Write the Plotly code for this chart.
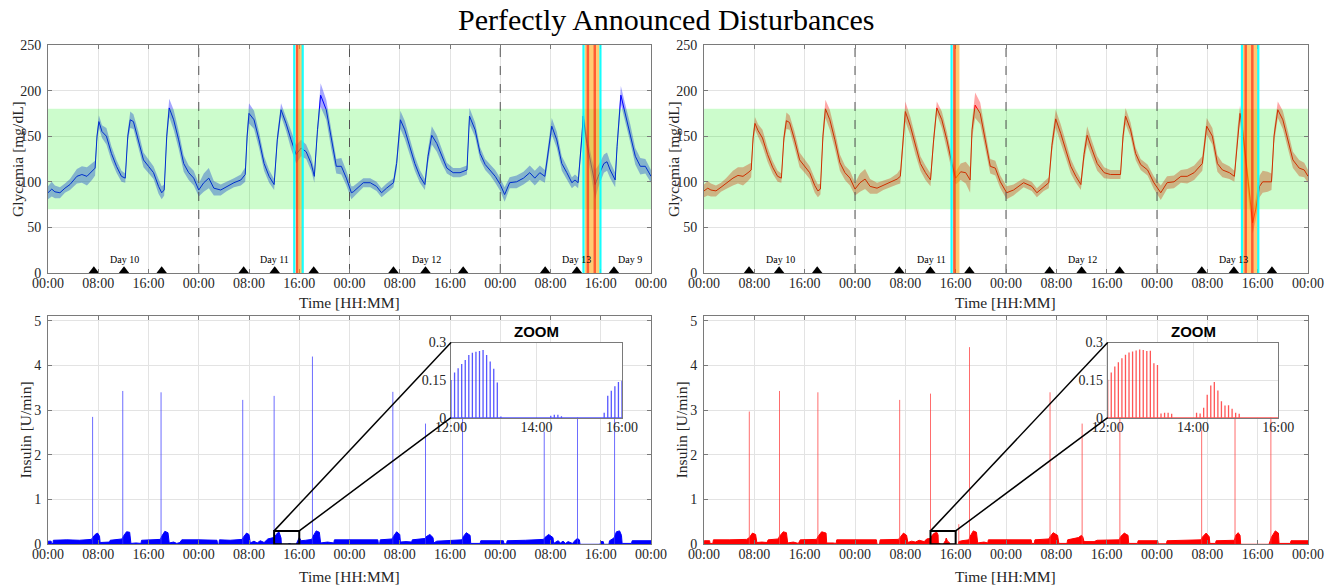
import plotly.graph_objects as go

# ---------------- data ----------------
hour_ticks = [0, 8, 16, 24, 32, 40, 48, 56, 64, 72, 80, 88, 96]
hour_tick_text = ["00:00", "08:00", "16:00", "00:00", "08:00", "16:00", "00:00",
                  "08:00", "16:00", "00:00", "08:00", "16:00", "00:00"]
glyc_ticks = [0, 50, 100, 150, 200, 250]
ins_ticks = [0, 1, 2, 3, 4, 5]
zoom_x_ticks = [36, 38, 40]
zoom_x_text = ["12:00", "14:00", "16:00"]
zoom_y_ticks = [0, 0.15, 0.3]
zoom_y_text = ["0", "0.15", "0.3"]
target_range = [70, 180]
midnights = [24, 48, 72]
zoom_window = [36, 40]
zoom_ymax = 0.3

# glycemia, left (blue) : hours, mean, spread
glu_L_t = [0.0, 0.6, 1.1, 1.9, 2.7, 3.5, 4.6, 5.4, 6.2, 7.0, 7.5, 7.8, 8.1, 8.6, 9.3, 10.1, 10.9, 11.7,
           12.3, 12.7, 13.1, 13.6, 14.4, 15.2, 16.0, 16.8, 17.6, 18.1, 18.5, 18.9, 19.3, 20.0, 20.8,
           21.6, 22.4, 23.2, 24.0, 24.8, 25.6, 26.4, 27.5, 28.5, 29.6, 30.7, 31.4, 31.7, 32.0, 32.8,
           33.6, 34.4, 35.2, 36.0, 36.5, 37.1, 37.9, 38.7, 39.5, 40.3, 41.1, 41.9, 42.4, 42.9, 43.4,
           44.3, 45.1, 45.9, 46.7, 47.5, 48.3, 48.6, 50.2, 51.3, 52.3, 53.1, 53.9, 55.0, 55.5, 56.1,
           56.8, 57.6, 58.4, 59.2, 60.0, 60.5, 61.1, 61.9, 62.7, 63.5, 64.5, 65.6, 66.7, 67.1, 68.0,
           68.8, 69.6, 70.4, 71.2, 72.0, 72.7, 73.5, 74.6, 75.7, 76.7, 77.5, 78.3, 79.1, 79.7, 80.2,
           81.0, 81.8, 82.6, 83.4, 83.9, 84.4, 85.0, 85.2, 85.8, 86.6, 87.1, 87.6, 88.5, 89.0, 89.5,
           90.3, 90.6, 91.2, 91.9, 92.7, 93.5, 94.3, 95.1, 96.0]
glu_L_mean = [88, 92, 89, 88, 93, 97, 106, 108, 106, 111, 115, 150, 166, 155, 150, 131, 117, 106,
              104, 150, 168, 166, 146, 124, 117, 110, 95, 88, 91, 150, 181, 168, 146,
              120, 110, 104, 91, 99, 104, 93, 91, 95, 99, 102, 108, 150, 175, 168,
              146, 120, 106, 97, 146, 179, 164, 146, 130, 137, 133, 120, 106, 157, 195,
              179, 146, 117, 117, 104, 88, 89, 99, 99, 95, 88, 93, 99, 120, 168,
              157, 139, 120, 106, 97, 128, 151, 142, 128, 115, 110, 110, 113, 172, 157,
              131, 119, 113, 106, 97, 86, 99, 100, 104, 110, 104, 110, 106, 135, 161,
              146, 120, 110, 99, 102, 99, 150, 172, 142, 113, 97, 106, 120, 122, 113,
              102, 139, 195, 175, 153, 128, 117, 117, 106]
glu_L_sd = [7, 8, 7, 6, 5, 6, 8, 9, 10, 9, 8,
            6, 7, 7, 9, 8, 7, 6, 5,
            6, 9, 8, 9, 8, 7, 7, 8, 7, 6,
            8, 10, 11, 10, 9, 8, 8,
            7, 10, 11, 8, 6, 5, 5, 6,
            8, 9, 11, 10, 9, 8, 7, 6,
            7, 7, 8, 10, 10, 9, 8, 8,
            7, 8, 13, 11, 10, 8, 9, 8,
            7, 6, 5, 5, 5, 5, 5, 5,
            7, 10, 10, 9, 8, 7, 6,
            8, 10, 9, 8, 6, 5, 5, 5,
            9, 8, 7, 6, 6, 7, 7, 8,
            6, 7, 7, 8, 8, 8, 7,
            8, 9, 9, 8, 7, 6, 6, 6,
            8, 9, 10, 12, 16, 12, 10, 10, 9, 8,
            8, 10, 10, 10, 9, 9, 8, 7]

# glycemia, right (red)
glu_R_t = [0.0, 0.6, 1.1, 1.9, 2.7, 3.5, 4.6, 5.4, 6.2, 7.0, 7.5, 7.8, 8.1, 8.6, 9.3, 10.1, 10.9, 11.7,
           12.3, 12.7, 13.1, 13.6, 14.4, 15.2, 16.0, 16.8, 17.6, 18.1, 18.5, 18.9, 19.3, 20.0, 20.8,
           21.6, 22.4, 23.2, 24.0, 24.8, 25.6, 26.4, 27.5, 28.5, 29.6, 30.7,
           31.2, 31.7, 32.0, 32.8, 33.6, 34.4, 35.2, 36.0,
           36.5, 37.0, 37.8, 38.6, 39.4, 40.0, 40.8, 41.6, 42.3,
           42.6, 43.1, 43.9, 44.7, 45.5, 46.3, 47.1, 48.1,
           49.2, 50.8, 52.1, 52.9, 54.0, 54.8,
           55.3, 55.9, 56.7, 57.5, 58.3, 59.1, 59.9,
           60.4, 60.9, 61.7, 62.5, 63.6, 64.6, 66.2,
           66.6, 67.0, 67.8, 68.6, 69.4, 70.5, 71.5, 72.6,
           73.6, 74.7, 75.8, 76.8, 77.9, 79.2,
           79.9, 80.8, 81.6, 82.4, 83.5, 84.3,
           84.8, 85.2, 85.6, 86.4, 87.2, 87.7, 88.3, 88.8, 89.6, 90.2,
           90.6, 91.2, 92.0, 92.8, 93.6, 94.6, 95.4, 96.0]
glu_R_mean = [90, 93, 91, 90, 94, 98, 104, 107, 106, 110, 113, 148, 164, 156, 148, 130, 116, 106,
              104, 148, 167, 165, 146, 124, 117, 110, 96, 90, 92, 150, 180, 168, 146,
              121, 110, 104, 92, 99, 103, 95, 93, 96, 99, 103,
              106, 150, 177, 161, 139, 120, 110, 102,
              146, 181, 168, 146, 120, 104, 111, 110, 102,
              157, 184, 175, 146, 117, 115, 100, 88,
              91, 99, 95, 88, 95, 99,
              140, 169, 153, 135, 117, 106, 97,
              130, 151, 135, 120, 110, 108, 108,
              150, 172, 157, 131, 119, 113, 99, 88,
              99, 100, 106, 106, 110, 120,
              161, 150, 120, 113, 110, 106,
              150, 175, 157, 102, 55, 70, 95, 100, 100, 100,
              150, 179, 168, 146, 124, 115, 113, 106]
glu_R_sd = [7, 8, 7, 6, 5, 6, 8, 9, 10, 9, 8,
            6, 7, 7, 9, 8, 7, 6, 5,
            6, 9, 8, 9, 8, 7, 7, 8, 7, 6,
            8, 10, 11, 10, 9, 8, 8,
            7, 10, 11, 8, 6, 5, 5, 6,
            8, 9, 11, 10, 9, 8, 8, 7,
            7, 7, 9, 9, 8, 7, 9, 12, 14,
            10, 14, 12, 10, 8, 8, 7, 7,
            6, 5, 5, 5, 5, 6,
            8, 10, 10, 9, 8, 7, 6,
            8, 10, 9, 8, 6, 5, 5,
            8, 9, 8, 7, 6, 6, 7, 8,
            7, 7, 7, 8, 8, 8,
            9, 9, 9, 8, 7, 6,
            9, 9, 10, 12, 12, 12, 12, 12, 11, 9,
            8, 9, 10, 10, 9, 9, 8, 7]

meal_L_h = [7.3, 12.1, 18.1, 31.15, 36.1, 42.3, 55.0, 60.1, 66.1, 79.15, 84.2, 90.1]
meal_R_h = [7.16, 11.94, 17.99, 31.04, 35.98, 42.19, 54.92, 60.02, 66.06, 79.12, 84.22, 90.27]

day_L_text = ["Day 10", "Day 11", "Day 12", "Day 13", "Day 9"]
day_L_h = [12.1, 36.1, 60.2, 84.2, 92.7]
day_R_text = ["Day 10", "Day 11", "Day 12", "Day 13"]
day_R_h = [12.1, 36.2, 60.2, 84.1]
day_label_level = 15

# disturbances (hours)
dist_L_cyan = [39.2, 40.55, 85.25, 87.95]
dist_L_orange = [[39.45, 40.45], [85.45, 87.8]]
dist_L_red = [39.65, 85.95, 87.05]
dist_R_cyan = [39.35, 85.5, 88.1]
dist_R_orange = [[39.6, 40.6], [85.65, 87.95]]
dist_R_red = [39.8, 86.1, 87.15]

# insulin envelope (hours, U/min)
ins_L = [(0.0, 0.0), (0.05, 0.07), (0.5, 0.07), (0.55, 0.02), (0.8, 0.02), (0.85, 0.09), (3.0, 0.1),
         (5.0, 0.09), (6.9, 0.11), (7.1, 0.14), (7.5, 0.22), (7.9, 0.25), (8.2, 0.18), (8.3, 0.04),
         (9.0, 0.05), (9.8, 0.05), (9.9, 0.09), (11.0, 0.1), (11.8, 0.12), (12.0, 0.18), (12.5, 0.28),
         (13.0, 0.27), (13.2, 0.02), (14.0, 0.03), (14.8, 0.02), (14.9, 0.09), (16.5, 0.1), (17.9, 0.11),
         (18.1, 0.18), (18.6, 0.29), (19.1, 0.26), (19.3, 0.03), (20.0, 0.05), (20.5, 0.02), (21.0, 0.04),
         (21.3, 0.1), (24.0, 0.1), (26.9, 0.09), (27.0, 0.0), (27.2, 0.0), (27.3, 0.1), (29.0, 0.09),
         (30.9, 0.11), (31.1, 0.16), (31.6, 0.25), (32.0, 0.22), (32.2, 0.03), (32.8, 0.07), (33.3, 0.03),
         (33.8, 0.08), (34.4, 0.04), (35.0, 0.12), (35.9, 0.15), (36.0, 0.15), (36.5, 0.25), (36.8, 0.27),
         (37.1, 0.14), (37.15, 0.0), (38.2, 0.0), (38.3, 0.015), (38.6, 0.01), (38.7, 0.0), (39.55, 0.0),
         (39.6, 0.03), (40.0, 0.15), (40.3, 0.08), (41.0, 0.09), (42.0, 0.11), (42.2, 0.18), (42.7, 0.3),
         (43.2, 0.27), (43.4, 0.03), (44.5, 0.05), (45.5, 0.03), (45.6, 0.1), (48.0, 0.1), (50.0, 0.09),
         (52.5, 0.1), (52.6, 0.02), (52.8, 0.02), (52.9, 0.1), (54.8, 0.12), (55.0, 0.18), (55.5, 0.28),
         (56.0, 0.22), (56.1, 0.05), (57.0, 0.06), (57.9, 0.05), (58.0, 0.1), (60.0, 0.13), (60.2, 0.17),
         (60.8, 0.22), (61.3, 0.15), (61.4, 0.03), (61.9, 0.07), (64.0, 0.09), (65.9, 0.1), (66.1, 0.17),
         (66.6, 0.26), (67.2, 0.2), (67.3, 0.02), (68.8, 0.02), (68.9, 0.08), (72.5, 0.08), (72.6, 0.01),
         (73.0, 0.01), (73.1, 0.08), (76.0, 0.09), (78.9, 0.11), (79.1, 0.15), (79.7, 0.22), (80.4, 0.15),
         (80.5, 0.02), (81.2, 0.08), (81.6, 0.03), (82.0, 0.07), (82.4, 0.02), (82.8, 0.06), (83.5, 0.02),
         (84.0, 0.1), (84.3, 0.13), (84.6, 0.1), (84.7, 0.0), (87.9, 0.0), (88.0, 0.06), (88.4, 0.06),
         (88.5, 0.0), (89.3, 0.0), (89.4, 0.08), (90.1, 0.14), (90.5, 0.28), (91.0, 0.3), (91.3, 0.2),
         (91.4, 0.02), (92.9, 0.02), (93.0, 0.08), (96.0, 0.08)]
ins_R = [(0.0, 0.0), (0.05, 0.08), (0.9, 0.08), (0.95, 0.02), (1.4, 0.02), (1.5, 0.1), (4.0, 0.1),
         (6.8, 0.11), (7.2, 0.15), (7.7, 0.25), (8.2, 0.22), (8.4, 0.04), (9.2, 0.05), (10.0, 0.04),
         (10.2, 0.1), (11.8, 0.12), (12.0, 0.18), (12.6, 0.28), (13.1, 0.26), (13.3, 0.03), (14.2, 0.05),
         (15.0, 0.02), (15.3, 0.1), (17.9, 0.11), (18.1, 0.17), (18.7, 0.28), (19.4, 0.25), (19.5, 0.03),
         (20.5, 0.03), (21.0, 0.02), (21.1, 0.1), (24.0, 0.1), (27.4, 0.1), (27.5, 0.0), (27.9, 0.0),
         (28.0, 0.1), (30.9, 0.11), (31.2, 0.16), (31.7, 0.25), (32.2, 0.2), (32.4, 0.04), (33.0, 0.07),
         (33.6, 0.05), (34.2, 0.09), (35.0, 0.06), (35.4, 0.12), (35.9, 0.13), (36.0, 0.15), (36.5, 0.24),
         (37.0, 0.27), (37.2, 0.21), (37.25, 0.0), (37.3, 0.02), (37.5, 0.02), (37.55, 0.0), (38.05, 0.0),
         (38.1, 0.02), (38.4, 0.09), (38.5, 0.14), (38.7, 0.07), (39.0, 0.04), (39.1, 0.0), (40.4, 0.0),
         (40.5, 0.06), (41.0, 0.08), (42.1, 0.1), (42.3, 0.18), (42.8, 0.3), (43.3, 0.27), (43.5, 0.03),
         (44.5, 0.05), (45.1, 0.03), (45.2, 0.1), (48.0, 0.1), (52.0, 0.1), (52.1, 0.02), (52.5, 0.02),
         (52.6, 0.1), (54.8, 0.12), (55.0, 0.17), (55.5, 0.26), (56.2, 0.2), (56.4, 0.02), (57.7, 0.02),
         (57.8, 0.1), (59.5, 0.15), (60.0, 0.2), (60.2, 0.17), (60.4, 0.06), (62.0, 0.06), (62.5, 0.09),
         (66.0, 0.1), (66.2, 0.17), (66.8, 0.25), (67.4, 0.2), (67.5, 0.02), (68.9, 0.02), (69.0, 0.08),
         (72.1, 0.08), (72.2, 0.01), (73.5, 0.01), (73.6, 0.08), (79.0, 0.1), (79.2, 0.16), (79.8, 0.25),
         (80.3, 0.17), (80.4, 0.02), (81.3, 0.02), (81.4, 0.08), (84.3, 0.09), (84.5, 0.2), (84.9, 0.26),
         (85.2, 0.2), (85.3, 0.0), (89.8, 0.0), (90.0, 0.08), (90.2, 0.16), (90.8, 0.3), (91.3, 0.25),
         (91.4, 0.02), (93.2, 0.02), (93.3, 0.08), (96.0, 0.08)]

bolus_L_t = [7.1, 11.9, 18.0, 31.0, 36.0, 42.1, 54.9, 60.1, 66.0, 79.0, 84.3, 90.2]
bolus_L_v = [2.85, 3.43, 3.40, 3.23, 3.32, 4.20, 3.41, 2.70, 3.40, 2.52, 3.30, 3.50]
bolus_R_t = [7.2, 12.0, 18.1, 31.1, 36.0, 40.5, 42.2, 55.0, 60.1, 66.1, 79.1, 84.4, 90.1]
bolus_R_v = [2.97, 3.43, 3.40, 3.23, 3.37, 0.45, 4.41, 3.40, 2.70, 3.40, 2.55, 3.30, 3.50]

# zoom pulses: minutes after 12:00, U/min
pulse_L_min = [0, 5, 10, 15, 20, 25, 30, 35, 40, 45, 50, 55, 60, 65, 70,
               140, 145, 150, 155, 215, 220, 225, 230, 235, 240]
pulse_L_val = [0.15, 0.18, 0.197, 0.214, 0.23, 0.25, 0.259, 0.263, 0.266, 0.27, 0.25, 0.224, 0.195, 0.14, 0.005,
               0.008, 0.012, 0.012, 0.006, 0.02, 0.088, 0.108, 0.125, 0.142, 0.147]
pulse_R_min = [0, 5, 10, 15, 20, 25, 30, 35, 40, 45, 50, 55, 60, 65, 70,
               75, 80, 85, 90,
               125, 130, 135, 140, 145, 150, 155, 160, 165, 170, 175, 180, 185]
pulse_R_val = [0.151, 0.18, 0.204, 0.221, 0.237, 0.251, 0.26, 0.264, 0.268, 0.272, 0.27, 0.266, 0.267, 0.217, 0.21,
               0.017, 0.02, 0.02, 0.016,
               0.02, 0.017, 0.04, 0.092, 0.128, 0.142, 0.109, 0.066, 0.049, 0.05, 0.036, 0.02, 0.016]

# ---------------- layout geometry (page pixels) ----------------
W, H = 1332, 585
BOX = {
    "gl": (48, 651, 45, 273), "gr": (704, 1308, 45, 273),
    "il": (48, 651, 316.3, 544.3), "ir": (704, 1308, 316.3, 544.3),
    "zl": (451, 622, 342.5, 417.7), "zr": (1107.7, 1278.3, 342.5, 417.7),
}
XR = [0, 96]
GR = [0, 250]
IR = [0, 5.1]
ZR = [0, zoom_ymax]


def px(xp):
    return xp / W


def py(yp):
    return 1 - yp / H


def xdom(k):
    b = BOX[k]
    return [px(b[0]), px(b[1])]


def ydom(k):
    b = BOX[k]
    return [py(b[3]), py(b[2])]


def frac(v, rng, dom):
    return dom[0] + (v - rng[0]) / (rng[1] - rng[0]) * (dom[1] - dom[0])


SERIF = "Liberation Serif"
GRID = "#e3e3e3"
AXC = "#7a7a7a"
TICKC = "#262626"

fig = go.Figure()
shapes = []
annotations = []

sides = [
    dict(gx="x", gy="y", ix="x3", iy="y3", zx="x5", zy="y5", gk="gl", ik="il", zk="zl",
         t=glu_L_t, m=glu_L_mean, sd=glu_L_sd, meals=meal_L_h, dtext=day_L_text, dh=day_L_h,
         cyan=dist_L_cyan, orange=dist_L_orange, red=dist_L_red, ins=ins_L,
         bt=bolus_L_t, bv=bolus_L_v, pm=pulse_L_min, pv=pulse_L_val,
         band="rgba(0,0,255,0.35)", line="rgb(0,0,255)", fill="rgb(0,0,255)",
         spike="rgba(60,60,255,0.75)", pulse="rgba(30,30,255,0.75)"),
    dict(gx="x2", gy="y2", ix="x4", iy="y4", zx="x6", zy="y6", gk="gr", ik="ir", zk="zr",
         t=glu_R_t, m=glu_R_mean, sd=glu_R_sd, meals=meal_R_h, dtext=day_R_text, dh=day_R_h,
         cyan=dist_R_cyan, orange=dist_R_orange, red=dist_R_red, ins=ins_R,
         bt=bolus_R_t, bv=bolus_R_v, pm=pulse_R_min, pv=pulse_R_val,
         band="rgba(255,0,0,0.35)", line="rgb(255,0,0)", fill="rgb(255,0,0)",
         spike="rgba(255,60,60,0.75)", pulse="rgba(255,30,30,0.75)"),
]

tri_size = 9
gl_px_per_unit = (BOX["gl"][3] - BOX["gl"][2]) / (GR[1] - GR[0])
tri_y = (tri_size / 4) / gl_px_per_unit

for s in sides:
    gx, gy = s["gx"], s["gy"]
    t, m, sd = s["t"], s["m"], s["sd"]
    upper = [a + b for a, b in zip(m, sd)]
    lower = [a - b for a, b in zip(m, sd)]
    fig.add_trace(go.Scatter(x=t + t[::-1], y=upper + lower[::-1], fill="toself",
                             fillcolor=s["band"], line=dict(width=0), mode="lines",
                             xaxis=gx, yaxis=gy, hoverinfo="skip", showlegend=False))
    fig.add_trace(go.Scatter(x=t, y=m, mode="lines", line=dict(color=s["line"], width=1),
                             xaxis=gx, yaxis=gy, showlegend=False))
    # translucent target zone drawn over the curves
    fig.add_trace(go.Scatter(x=[XR[0], XR[1], XR[1], XR[0], XR[0]],
                             y=[target_range[0], target_range[0], target_range[1], target_range[1], target_range[0]],
                             fill="toself", fillcolor="rgba(0,240,0,0.2)", line=dict(width=0), mode="lines",
                             xaxis=gx, yaxis=gy, hoverinfo="skip", showlegend=False))
    mx, my = [], []
    for mn in midnights:
        mx += [mn, mn, None]
        my += [GR[0], GR[1], None]
    fig.add_trace(go.Scatter(x=mx, y=my, mode="lines", line=dict(color="#555555", width=1, dash="dash"),
                             xaxis=gx, yaxis=gy, hoverinfo="skip", showlegend=False))
    fig.add_trace(go.Scatter(x=s["meals"], y=[tri_y] * len(s["meals"]), mode="markers",
                             marker=dict(symbol="triangle-up", size=tri_size, color="black"),
                             cliponaxis=False, xaxis=gx, yaxis=gy, showlegend=False))
    for txt, h in zip(s["dtext"], s["dh"]):
        annotations.append(dict(x=h, y=day_label_level, xref=gx, yref=gy, text=txt,
                                showarrow=False, font=dict(family=SERIF, size=10, color="black")))
    # disturbances
    for a, b in s["orange"]:
        shapes.append(dict(type="rect", xref=gx, yref=gy, x0=a, x1=b, y0=GR[0], y1=GR[1],
                           fillcolor="rgba(255,160,0,0.55)", line=dict(width=0), layer="above"))
    for r in s["red"]:
        shapes.append(dict(type="line", xref=gx, yref=gy, x0=r, x1=r, y0=GR[0], y1=GR[1],
                           line=dict(color="rgba(255,0,0,0.55)", width=2.5), layer="above"))
    for c in s["cyan"]:
        shapes.append(dict(type="line", xref=gx, yref=gy, x0=c, x1=c, y0=GR[0], y1=GR[1],
                           line=dict(color="rgba(0,255,255,0.9)", width=2.2), layer="above"))

    # insulin
    it = [p[0] for p in s["ins"]]
    iv = [p[1] for p in s["ins"]]
    fig.add_trace(go.Scatter(x=it, y=iv, mode="lines", fill="tozeroy", fillcolor=s["fill"],
                             line=dict(color=s["fill"], width=1), xaxis=s["ix"], yaxis=s["iy"],
                             showlegend=False))
    sx, sy = [], []
    for bt, bv in zip(s["bt"], s["bv"]):
        sx += [bt, bt, None]
        sy += [0, bv, None]
    fig.add_trace(go.Scatter(x=sx, y=sy, mode="lines", line=dict(color=s["spike"], width=1),
                             xaxis=s["ix"], yaxis=s["iy"], showlegend=False))
    # zoom inset: baseline + one stem per pulse
    fig.add_trace(go.Scatter(x=zoom_window, y=[0, 0], mode="lines", line=dict(color=s["pulse"], width=1.2),
                             xaxis=s["zx"], yaxis=s["zy"], showlegend=False))
    zx, zy = [], []
    for mnt, val in zip(s["pm"], s["pv"]):
        hh = zoom_window[0] + mnt / 60
        zx += [hh, hh, None]
        zy += [0, val, None]
    fig.add_trace(go.Scatter(x=zx, y=zy, mode="lines", line=dict(color=s["pulse"], width=1.3),
                             xaxis=s["zx"], yaxis=s["zy"], showlegend=False))
    # zoom rectangle + connectors
    shapes.append(dict(type="rect", xref=s["ix"], yref=s["iy"], x0=zoom_window[0], x1=zoom_window[1],
                       y0=0, y1=zoom_ymax, line=dict(color="black", width=2), layer="above"))
    ixd, iyd = xdom(s["ik"]), ydom(s["ik"])
    zxd, zyd = xdom(s["zk"]), ydom(s["zk"])
    p_tl = (frac(zoom_window[0], XR, ixd), frac(zoom_ymax, IR, iyd))
    p_tr = (frac(zoom_window[1], XR, ixd), frac(zoom_ymax, IR, iyd))
    shapes.append(dict(type="line", xref="paper", yref="paper", x0=p_tl[0], y0=p_tl[1], x1=zxd[0], y1=zyd[1],
                       line=dict(color="black", width=1.5), layer="above"))
    shapes.append(dict(type="line", xref="paper", yref="paper", x0=p_tr[0], y0=p_tr[1], x1=zxd[0], y1=zyd[0],
                       line=dict(color="black", width=1.5), layer="above"))
    annotations.append(dict(x=(zxd[0] + zxd[1]) / 2, y=zyd[1], xref="paper", yref="paper",
                            xanchor="center", yanchor="bottom", yshift=1, text="<b>ZOOM</b>", showarrow=False,
                            font=dict(family="Liberation Sans", size=15, color="black")))
    # axis titles
    gxd, gyd = xdom(s["gk"]), ydom(s["gk"])
    cx = (gxd[0] + gxd[1]) / 2
    for yy in (302, 576):
        annotations.append(dict(x=cx, y=py(yy), xref="paper", yref="paper", text="Time [HH:MM]",
                                xanchor="center", yanchor="middle", showarrow=False,
                                font=dict(family=SERIF, size=15.5, color="#262626")))
    annotations.append(dict(x=gxd[0] - 30 / W, y=(gyd[0] + gyd[1]) / 2, xref="paper", yref="paper",
                            xanchor="center", yanchor="middle",
                            text="Glycemia [mg/dL]", textangle=-90, showarrow=False,
                            font=dict(family=SERIF, size=15.5, color="#262626")))
    annotations.append(dict(x=gxd[0] - 23 / W, y=(iyd[0] + iyd[1]) / 2, xref="paper", yref="paper",
                            xanchor="center", yanchor="middle",
                            text="Insulin [U/min]", textangle=-90, showarrow=False,
                            font=dict(family=SERIF, size=15.5, color="#262626")))

annotations.append(dict(x=px(666), y=py(20), xref="paper", yref="paper", xanchor="center", yanchor="middle",
                        text="Perfectly Announced Disturbances", showarrow=False,
                        font=dict(family=SERIF, size=30, color="black")))

tickfont = dict(family=SERIF, size=14, color=TICKC)


def main_x(k, anchor):
    return dict(domain=xdom(k), anchor=anchor, range=XR, tickvals=hour_ticks, ticktext=hour_tick_text,
                showgrid=True, gridcolor=GRID, gridwidth=1, zeroline=False, showline=True, linecolor=AXC,
                linewidth=1, mirror="ticks", ticks="inside", ticklen=4, tickcolor=AXC, tickfont=tickfont,
                ticklabelstandoff=-3, automargin=False)


def main_y(k, anchor, rng, tv):
    return dict(domain=ydom(k), anchor=anchor, range=rng, tickvals=tv, showgrid=True, gridcolor=GRID,
                gridwidth=1, zeroline=False, showline=True, linecolor=AXC, linewidth=1, mirror="ticks",
                ticks="inside", ticklen=4, tickcolor=AXC, tickfont=tickfont, ticklabelstandoff=3,
                automargin=False)


def zoom_x(k, anchor):
    return dict(domain=xdom(k), anchor=anchor, range=zoom_window, tickvals=zoom_x_ticks, ticktext=zoom_x_text,
                showgrid=True, gridcolor=GRID, zeroline=False, showline=True, linecolor=AXC, linewidth=1,
                mirror=True, ticks="", tickfont=tickfont, ticklabelstandoff=-4, automargin=False)


def zoom_y(k, anchor):
    return dict(domain=ydom(k), anchor=anchor, range=ZR, tickvals=zoom_y_ticks, ticktext=zoom_y_text,
                showgrid=True, gridcolor=GRID, zeroline=False, showline=True, linecolor=AXC, linewidth=1,
                mirror=True, ticks="", tickfont=tickfont, ticklabelstandoff=1, automargin=False)


fig.update_layout(
    width=W, height=H, margin=dict(l=0, r=0, t=0, b=0, pad=0, autoexpand=False),
    paper_bgcolor="white", plot_bgcolor="white", showlegend=False,
    xaxis=main_x("gl", "y"), yaxis=main_y("gl", "x", GR, glyc_ticks),
    xaxis2=main_x("gr", "y2"), yaxis2=main_y("gr", "x2", GR, glyc_ticks),
    xaxis3=main_x("il", "y3"), yaxis3=main_y("il", "x3", IR, ins_ticks),
    xaxis4=main_x("ir", "y4"), yaxis4=main_y("ir", "x4", IR, ins_ticks),
    xaxis5=zoom_x("zl", "y5"), yaxis5=zoom_y("zl", "x5"),
    xaxis6=zoom_x("zr", "y6"), yaxis6=zoom_y("zr", "x6"),
    shapes=shapes, annotations=annotations,
)

# the page's default 8px body margin is removed so the figure fills the window exactly
fig.write_html("out.html", config={"displayModeBar": False},
               post_script="document.body.style.margin='0';document.body.style.overflow='hidden';")
